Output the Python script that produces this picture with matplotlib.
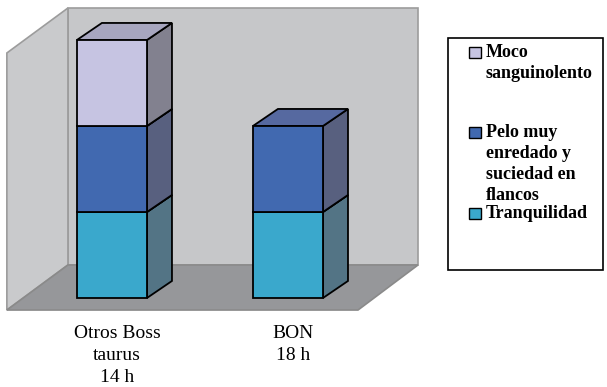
import matplotlib.pyplot as plt
from matplotlib.patches import Polygon, Rectangle

# datos
categorias = ['Otros Boss\ntaurus\n14 h', 'BON\n18 h']
series = ['Tranquilidad', 'Pelo muy\nenredado y\nsuciedad en\nflancos', 'Moco\nsanguinolento']
tranquilidad = [1, 1]
pelo = [1, 1]
moco = [1, 0]
valores = [tranquilidad, pelo, moco]

colores = ['#3aa8cc', '#4169b0', '#c6c4e2']
lados = ['#537485', '#58607f', '#82818f']
techos = ['#4f8fa8', '#5669a0', '#a7a6bf']

fig = plt.figure(figsize=(6.07, 3.87), dpi=100)
ax = fig.add_axes([0, 0, 1, 1])
ax.set_xlim(-0.636, 2.8125)
ax.set_ylim(-1.035, 3.465)
ax.axis('off')

# paredes y piso (decoracion)
pared = '#c6c7c9'
borde = '#9c9c9c'
ax.add_patch(Polygon([(-0.25, 0.384), (1.739, 0.384), (1.739, 3.372), (-0.25, 3.372)],
                     closed=True, fc=pared, ec=borde, lw=1.2, zorder=1))
ax.add_patch(Polygon([(-0.597, -0.140), (-0.25, 0.384), (-0.25, 3.372), (-0.597, 2.849)],
                     closed=True, fc='#c9cacc', ec=borde, lw=1.2, zorder=1))
ax.add_patch(Polygon([(-0.597, -0.140), (1.398, -0.140), (1.739, 0.384), (-0.25, 0.384)],
                     closed=True, fc='#96979a', ec='#8a8a8a', lw=1.2, zorder=1))

ancho = 0.398
dx, dy = 0.142, 0.198
x = list(range(len(categorias)))
base = [0] * len(categorias)
for i, vals in enumerate(valores):
    for j, v in enumerate(vals):
        if v == 0:
            continue
        b = base[j]
        x0 = x[j] - ancho / 2
        x1 = x[j] + ancho / 2
        ax.bar(x[j], v, ancho, bottom=b, color=colores[i], edgecolor='black', lw=1.3, zorder=3)
        ax.add_patch(Polygon([(x1, b), (x1 + dx, b + dy), (x1 + dx, b + v + dy), (x1, b + v)],
                             closed=True, fc=lados[i], ec='black', lw=1.3, zorder=2))
        ax.add_patch(Polygon([(x0, b + v), (x1, b + v), (x1 + dx, b + v + dy), (x0 + dx, b + v + dy)],
                             closed=True, fc=techos[i], ec='black', lw=1.3, zorder=2))
        base[j] = b + v

for j, c in enumerate(categorias):
    ax.text(x[j] + 0.03, -0.31, c, ha='center', va='top', family='Liberation Serif',
            fontsize=14, linespacing=1.38)

# leyenda
fig.patches.append(Rectangle((448 / 607, 1 - 270 / 387), 155 / 607, 232 / 387,
                             transform=fig.transFigure, fc='white', ec='black', lw=1.2))
base_texto = [58, 138, 219]
orden = [2, 1, 0]
for k, i in enumerate(orden):
    y = 1 - base_texto[k] / 387
    fig.patches.append(Rectangle((469 / 607, y), 12 / 607, 11 / 387,
                                 transform=fig.transFigure, fc=colores[i], ec='black', lw=1.0))
    fig.text(486 / 607, y + 14 / 387, series[i], ha='left', va='top', family='Liberation Serif',
             fontweight='bold', fontsize=13, linespacing=1.3)

fig.savefig('out.png', dpi=100)
